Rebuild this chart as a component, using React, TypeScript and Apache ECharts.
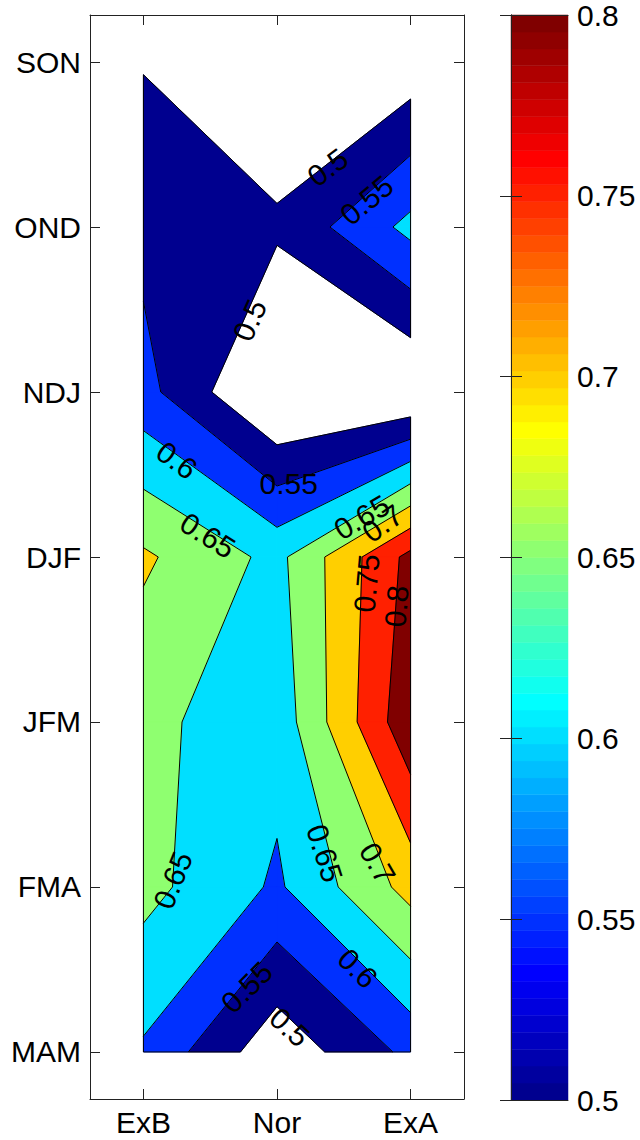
import React, { useEffect, useRef } from 'react';
import * as echarts from 'echarts';

// ---------- data ----------
const xCats = ['ExB', 'Nor', 'ExA'];
const yCats = ['SON', 'OND', 'NDJ', 'DJF', 'JFM', 'FMA', 'MAM'];
const levels = [0.5, 0.55, 0.6, 0.65, 0.7, 0.75, 0.8];
// grid values per column, rows SON..MAM
const valExB = [0.497, 0.536, 0.567, 0.708, 0.663, 0.666, 0.593];
const valNor = [0.452, 0.508, 0.436, 0.636, 0.618, 0.5925, 0.465];
const valExA = [0.467, 0.614, 0.444, 0.815, 0.838, 0.718, 0.563];
const xTickVals = [1, 2, 3];
const yTickVals = [1, 2, 3, 4, 5, 6, 7];
const cbTicks = [0.5, 0.55, 0.6, 0.65, 0.7, 0.75, 0.8];
const cbMin = 0.5;
const cbMax = 0.8;
// contour labels: position in data units (column, row), text, rotation (deg)
const labelX = [2.379, 2.671, 1.796, 1.25, 2.088, 1.482, 2.634, 2.791, 2.671, 2.895, 1.221, 2.357, 2.753, 1.774, 2.095, 2.604];
const labelY = [1.638, 1.838, 2.565, 3.414, 3.553, 3.869, 3.759, 3.796, 4.159, 4.299, 5.959, 5.796, 5.856, 6.608, 6.85, 6.493];
const labelText = ['0.5', '0.55', '0.5', '0.6', '0.55', '0.65', '0.65', '0.7', '0.75', '0.8', '0.65', '0.65', '0.7', '0.55', '0.5', '0.6'];
const labelRot = [37, 40, 66, -36, 0, -32, 30, 35, 85, 85, 68, -72, -60, 45, -42, -45];

// ---------- helpers ----------
const gridVals = [valExB, valNor, valExA];
const V = (c: number, r: number) => gridVals[c][r];

function jet64(i: number): string {
  const n = 16;
  const u: number[] = [];
  for (let k = 1; k <= n; k++) u.push(k / n);
  for (let k = 1; k < n; k++) u.push(1);
  for (let k = n; k >= 1; k--) u.push(k / n);
  const get = (off: number) => {
    const j = i - off;
    return j >= 1 && j <= u.length ? u[j - 1] : 0;
  };
  const r = get(24), g = get(8), b = get(-8);
  return `rgb(${Math.round(r * 255)},${Math.round(g * 255)},${Math.round(b * 255)})`;
}
function levelColor(L: number): string {
  let idx = Math.floor((L - cbMin) / (cbMax - cbMin) * 64 + 1e-9) + 1;
  idx = Math.max(1, Math.min(64, idx));
  return jet64(idx);
}

type P = [number, number, number];
function bandPoly(corners: P[], lo: number, hi: number): number[][] {
  const pts: number[][] = [];
  for (let i = 0; i < 4; i++) {
    const A = corners[i], B = corners[(i + 1) % 4];
    if (A[2] >= lo && A[2] < hi) pts.push([A[0], A[1]]);
    const ts: number[] = [];
    for (const L of [lo, hi]) {
      if (!isFinite(L)) continue;
      if ((A[2] < L && B[2] >= L) || (A[2] >= L && B[2] < L)) ts.push((L - A[2]) / (B[2] - A[2]));
    }
    ts.sort((a, b) => a - b);
    for (const t of ts) pts.push([A[0] + (B[0] - A[0]) * t, A[1] + (B[1] - A[1]) * t]);
  }
  return pts;
}
function crossings(corners: P[], L: number): number[][] {
  const pts: number[][] = [];
  for (let i = 0; i < 4; i++) {
    const A = corners[i], B = corners[(i + 1) % 4];
    if ((A[2] < L && B[2] >= L) || (A[2] >= L && B[2] < L)) {
      const t = (L - A[2]) / (B[2] - A[2]);
      pts.push([A[0] + (B[0] - A[0]) * t, A[1] + (B[1] - A[1]) * t]);
    }
  }
  return pts;
}
function cellCorners(c: number, r: number): P[] {
  return [
    [c + 1, r + 1, V(c, r)],
    [c + 2, r + 1, V(c + 1, r)],
    [c + 2, r + 2, V(c + 1, r + 1)],
    [c + 1, r + 2, V(c, r + 1)],
  ];
}
const cells: number[][] = [];
for (let c = 0; c < xCats.length - 1; c++) for (let r = 0; r < yCats.length - 1; r++) cells.push([c + 1, r + 1]);
const cbData: number[][] = [];
for (let i = 1; i <= 64; i++) cbData.push([0, i]);

const FONT = 'Liberation Sans, Arial, Helvetica, sans-serif';
const AX = '#222';

export default function App() {
  const ref = useRef<HTMLDivElement>(null);
  useEffect(() => {
    document.body.style.margin = '0';
    if (!ref.current) return;
    const chart = echarts.init(ref.current, undefined, { renderer: 'svg' });

    const tickStyle = (len: number) => ({ show: true, inside: true, length: len, lineStyle: { color: AX, width: 1 } });
    const lineStyle = { show: true, lineStyle: { color: AX, width: 1 } };
    const labelStyle = { fontSize: 30, color: '#000', fontFamily: FONT };

    const option: any = {
      animation: false,
      backgroundColor: '#fff',
      grid: [
        { left: 90, top: 15, width: 374, height: 1084 },
        { left: 511, top: 15, width: 57, height: 1085 },
      ],
      xAxis: [
        {
          gridIndex: 0, type: 'value', min: 0.6, max: 3.4, position: 'bottom', z: 10,
          axisLine: lineStyle, splitLine: { show: false },
          axisTick: { ...tickStyle(10), customValues: xTickVals },
          axisLabel: { ...labelStyle, margin: 8, customValues: xTickVals, formatter: (v: number) => xCats[Math.round(v) - 1] },
        },
        {
          gridIndex: 0, type: 'value', min: 0.6, max: 3.4, position: 'top', z: 10,
          axisLine: lineStyle, splitLine: { show: false },
          axisTick: { ...tickStyle(10), customValues: xTickVals },
          axisLabel: { show: false },
        },
        {
          gridIndex: 1, type: 'value', min: 0, max: 1, position: 'bottom', z: 10,
          axisLine: lineStyle, splitLine: { show: false }, axisTick: { show: false }, axisLabel: { show: false },
        },
        {
          gridIndex: 1, type: 'value', min: 0, max: 1, position: 'top', z: 10,
          axisLine: lineStyle, splitLine: { show: false }, axisTick: { show: false }, axisLabel: { show: false },
        },
      ],
      yAxis: [
        {
          gridIndex: 0, type: 'value', inverse: true, min: 0.715, max: 7.285, position: 'left', z: 10,
          axisLine: lineStyle, splitLine: { show: false },
          axisTick: { ...tickStyle(10), customValues: yTickVals },
          axisLabel: { ...labelStyle, margin: 9, customValues: yTickVals, formatter: (v: number) => yCats[Math.round(v) - 1] },
        },
        {
          gridIndex: 0, type: 'value', inverse: true, min: 0.715, max: 7.285, position: 'right', z: 10,
          axisLine: lineStyle, splitLine: { show: false },
          axisTick: { ...tickStyle(10), customValues: yTickVals },
          axisLabel: { show: false },
        },
        {
          gridIndex: 1, type: 'value', min: cbMin, max: cbMax, position: 'left', z: 10,
          axisLine: lineStyle, splitLine: { show: false },
          axisTick: { ...tickStyle(11), customValues: cbTicks },
          axisLabel: { show: false },
        },
        {
          gridIndex: 1, type: 'value', min: cbMin, max: cbMax, position: 'right', z: 10,
          axisLine: lineStyle, splitLine: { show: false },
          axisTick: { ...tickStyle(11), customValues: cbTicks },
          axisLabel: { ...labelStyle, margin: 9, customValues: cbTicks, formatter: (v: number) => String(+v.toFixed(2)) },
        },
      ],
      series: [
        // filled bands
        {
          type: 'custom', xAxisIndex: 0, yAxisIndex: 0, z: 2, silent: true,
          data: cells, encode: { x: 0, y: 1 },
          renderItem: (params: any, api: any) => {
            const c = api.value(0) - 1, r = api.value(1) - 1;
            const corners = cellCorners(c, r);
            const children: any[] = [];
            for (let k = 0; k < levels.length; k++) {
              const lo = levels[k];
              const hi = k + 1 < levels.length ? levels[k + 1] : Infinity;
              const pts = bandPoly(corners, lo, hi);
              if (pts.length >= 3) {
                const col = levelColor(lo);
                children.push({
                  type: 'polygon',
                  shape: { points: pts.map((p) => api.coord(p)) },
                  style: { fill: col, stroke: col, lineWidth: 0.8 },
                });
              }
            }
            return { type: 'group', children };
          },
        },
        // contour lines + outer edges
        {
          type: 'custom', xAxisIndex: 0, yAxisIndex: 0, z: 3, silent: true,
          data: cells, encode: { x: 0, y: 1 },
          renderItem: (params: any, api: any) => {
            const c = api.value(0) - 1, r = api.value(1) - 1;
            const corners = cellCorners(c, r);
            const children: any[] = [];
            const seg = (a: number[], b: number[]) => {
              const p1 = api.coord(a), p2 = api.coord(b);
              children.push({
                type: 'line',
                shape: { x1: p1[0], y1: p1[1], x2: p2[0], y2: p2[1] },
                style: { stroke: '#000', lineWidth: 1 },
              });
            };
            for (const L of levels) {
              const pts = crossings(corners, L);
              for (let i = 0; i + 1 < pts.length; i += 2) seg(pts[i], pts[i + 1]);
            }
            const edges: number[][] = [];
            if (r === 0) edges.push([0, 1]);
            if (c === xCats.length - 2) edges.push([1, 2]);
            if (r === yCats.length - 2) edges.push([2, 3]);
            if (c === 0) edges.push([3, 0]);
            const L0 = levels[0];
            for (const [i, j] of edges) {
              const A = corners[i], B = corners[j];
              const aIn = A[2] >= L0, bIn = B[2] >= L0;
              if (aIn && bIn) seg([A[0], A[1]], [B[0], B[1]]);
              else if (aIn || bIn) {
                const t = (L0 - A[2]) / (B[2] - A[2]);
                const m = [A[0] + (B[0] - A[0]) * t, A[1] + (B[1] - A[1]) * t];
                seg(aIn ? [A[0], A[1]] : [B[0], B[1]], m);
              }
            }
            return { type: 'group', children };
          },
        },
        // contour labels
        {
          type: 'custom', xAxisIndex: 0, yAxisIndex: 0, z: 4, silent: true,
          data: labelX.map((x, i) => [x, labelY[i]]), encode: { x: 0, y: 1 },
          renderItem: (params: any, api: any) => {
            const i = params.dataIndex;
            const p = api.coord([api.value(0), api.value(1)]);
            return {
              type: 'text', x: p[0], y: p[1], rotation: (labelRot[i] * Math.PI) / 180,
              style: { text: labelText[i], fill: '#000', font: `30px ${FONT}`, align: 'center', verticalAlign: 'middle' },
            };
          },
        },
        // colorbar
        {
          type: 'custom', xAxisIndex: 2, yAxisIndex: 2, z: 2, silent: true,
          data: cbData, encode: { x: 0, y: 1 },
          renderItem: (params: any, api: any) => {
            const i = api.value(1);
            const v0 = cbMin + ((i - 1) * (cbMax - cbMin)) / 64;
            const v1 = cbMin + (i * (cbMax - cbMin)) / 64;
            const p0 = api.coord([0, v0]);
            const p1 = api.coord([1, v1]);
            const col = jet64(i);
            return {
              type: 'rect',
              shape: { x: p0[0], y: p1[1], width: p1[0] - p0[0], height: p0[1] - p1[1] },
              style: { fill: col, stroke: col, lineWidth: 0.5 },
            };
          },
        },
      ],
    };
    chart.setOption(option);
    return () => chart.dispose();
  }, []);
  return <div ref={ref} style={{ width: 640, height: 1140 }} />;
}
